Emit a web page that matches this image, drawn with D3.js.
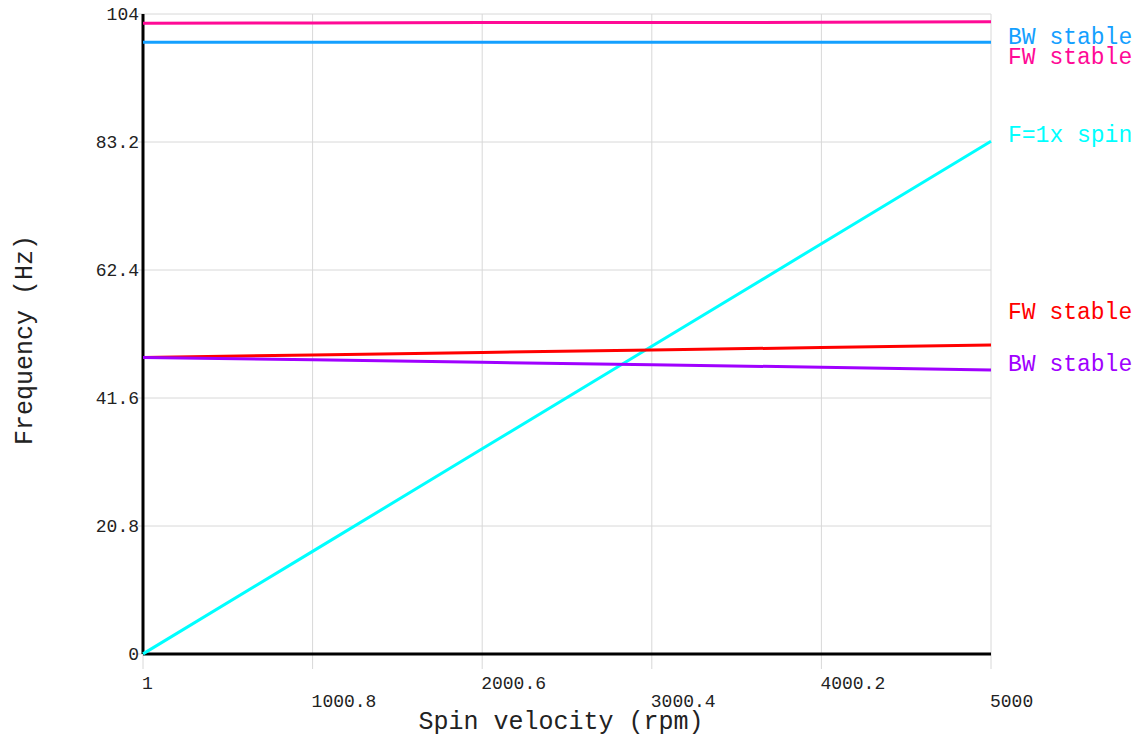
<!DOCTYPE html>
<html>
<head>
<meta charset="utf-8">
<script src="https://cdn.jsdelivr.net/npm/d3@7"></script>
<style>
  body { margin: 0; background: #fff; }
  svg { display: block; }
  text { font-family: "Courier New", "Liberation Mono", monospace; }
</style>
</head>
<body>
<div id="chart"></div>
<script>
const width = 1148;
const height = 737;

// Data
const speeds = [1, 1000.8, 2000.6, 3000.4, 4000.2, 5000];
const xTicks = [1, 1000.8, 2000.6, 3000.4, 4000.2, 5000];
const yTicks = [0, 20.8, 41.6, 62.4, 83.2, 104];

const fwHigh = [102.5, 102.55, 102.6, 102.6, 102.65, 102.75];
const bwHigh = [99.4, 99.4, 99.4, 99.4, 99.4, 99.4];
const spin1x = [0.017, 16.68, 33.34, 50.01, 66.67, 83.33];
const fwLow = [48.2, 48.6, 49.0, 49.4, 49.8, 50.2];
const bwLow = [48.2, 47.8, 47.4, 47.0, 46.6, 46.15];

const series = [
  { name: 'FW stable', values: fwHigh, color: '#ff0a96', labelY: 56 },
  { name: 'BW stable', values: bwHigh, color: '#14a0ff', labelY: 36 },
  { name: 'F=1x spin', values: spin1x, color: '#00ffff', labelY: 134 },
  { name: 'FW stable', values: fwLow, color: '#ff0000', labelY: 311 },
  { name: 'BW stable', values: bwLow, color: '#a000ff', labelY: 363 }
];

const plotL = 143, plotR = 991, plotT = 14, plotB = 654;

const x = d3.scaleLinear().domain([1, 5000]).range([plotL, plotR]);
const y = d3.scaleLinear().domain([0, 104]).range([plotB, plotT]);

const svg = d3.select('#chart')
  .append('svg')
  .attr('width', width)
  .attr('height', height);

// Grid
const grid = svg.append('g');
grid.selectAll('.vg')
  .data(xTicks)
  .join('line')
  .attr('x1', d => x(d)).attr('x2', d => x(d))
  .attr('y1', plotT).attr('y2', plotB + 15)
  .attr('stroke', '#d8d8d8').attr('stroke-width', 1);
grid.selectAll('.hg')
  .data(yTicks)
  .join('line')
  .attr('x1', plotL - 5).attr('x2', plotR)
  .attr('y1', d => y(d)).attr('y2', d => y(d))
  .attr('stroke', '#d8d8d8').attr('stroke-width', 1);

// Axis lines
svg.append('line')
  .attr('x1', plotL).attr('x2', plotL)
  .attr('y1', plotT).attr('y2', plotB)
  .attr('stroke', '#000').attr('stroke-width', 3);
svg.append('line')
  .attr('x1', plotL).attr('x2', plotR)
  .attr('y1', plotB).attr('y2', plotB)
  .attr('stroke', '#000').attr('stroke-width', 3);

// Tick labels
svg.selectAll('.ylab')
  .data(yTicks)
  .join('text')
  .attr('x', plotL - 4)
  .attr('y', d => y(d))
  .attr('dy', '0.35em')
  .attr('text-anchor', 'end')
  .attr('fill', '#222')
  .style('font-size', '18px')
  .text(d => d);

svg.selectAll('.xlab')
  .data(xTicks)
  .join('text')
  .attr('x', d => x(d) - 1)
  .attr('y', (d, i) => i % 2 === 0 ? 689 : 707)
  .attr('text-anchor', 'start')
  .attr('fill', '#222')
  .style('font-size', '18px')
  .text(d => d);

// Axis titles
svg.append('text')
  .attr('x', 561).attr('y', 729)
  .attr('text-anchor', 'middle')
  .attr('fill', '#222')
  .style('font-size', '25px')
  .text('Spin velocity (rpm)');

svg.append('text')
  .attr('transform', 'translate(32,340) rotate(-90)')
  .attr('text-anchor', 'middle')
  .attr('fill', '#222')
  .style('font-size', '25px')
  .text('Frequency (Hz)');

// Curves
const line = d3.line()
  .x((d, i) => x(speeds[i]))
  .y(d => y(d));

svg.selectAll('.curve')
  .data(series)
  .join('path')
  .attr('d', d => line(d.values))
  .attr('fill', 'none')
  .attr('stroke', d => d.color)
  .attr('stroke-width', 3);

// Right-hand labels
svg.selectAll('.slab')
  .data(series)
  .join('text')
  .attr('x', 1008)
  .attr('y', d => d.labelY)
  .attr('dy', '0.35em')
  .attr('fill', d => d.color)
  .style('font-size', '23px')
  .text(d => d.name);
</script>
</body>
</html>
